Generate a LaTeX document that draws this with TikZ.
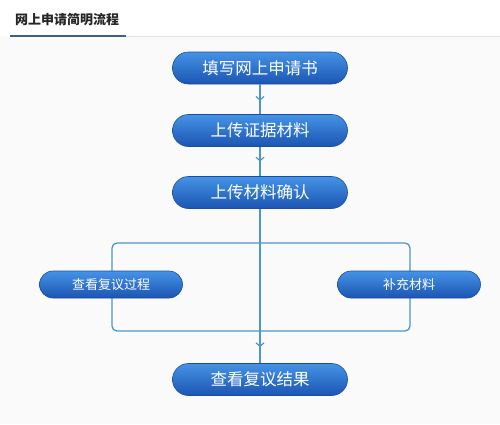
\documentclass[tikz,border=0pt]{standalone}
\usepackage{fontspec}
\newfontfamily\cjk{Noto Sans CJK SC}
\usetikzlibrary{decorations.markings,arrows.meta}
\definecolor{bg}{HTML}{FAFAFB}
\definecolor{boxtop}{HTML}{4593E6}
\definecolor{boxbot}{HTML}{1B55B2}
\definecolor{boxedge}{HTML}{1A4E9E}
\definecolor{linec}{HTML}{4F95C8}
\definecolor{titleline}{HTML}{3C5F8E}
\definecolor{sepline}{HTML}{E2E4E8}
\tikzset{
  x=1pt,y=-1pt,
  bigbox/.style={rounded corners=16pt,minimum width=175pt,minimum height=32pt,
    top color=boxtop,bottom color=boxbot,draw=boxedge,line width=0.6pt,
    text=white,font=\cjk\fontsize{16.5}{16.5}\selectfont,inner sep=0pt},
  smallbox/.style={rounded corners=13.5pt,minimum width=143pt,minimum height=27pt,
    top color=boxtop,bottom color=boxbot,draw=boxedge,line width=0.6pt,
    text=white,font=\cjk\fontsize{13}{13}\selectfont,inner sep=0pt},
  flow/.style={draw=linec,line width=1.3pt},
  midarrow/.style={postaction={decorate},decoration={markings,
    mark=at position #1 with {\arrow[linec,line width=1.2pt]{Straight Barb[length=3.5pt,width=8pt]}}}},
}
\begin{document}
\begin{tikzpicture}
\useasboundingbox (0,0) rectangle (500,424);
\fill[bg] (0,0) rectangle (500,424);
\fill[white] (0,0) rectangle (500,36);
\draw[sepline,line width=1pt] (126,36) -- (500,36);
\draw[titleline,line width=2pt] (10,36) -- (126,36);
\node[anchor=west,font=\cjk\bfseries\fontsize{13}{13}\selectfont,text=black!85,inner sep=0pt] (title) at (15,20) {网上申请简明流程};

\draw[linec,line width=1.3pt,rounded corners=5pt] (112,243) rectangle (410,331);

\node[bigbox] (b1) at (260,68) {填写网上申请书};
\node[bigbox] (b2) at (260,130.5) {上传证据材料};
\node[bigbox] (b3) at (260,192.5) {上传材料确认};
\node[smallbox] (s1) at (111,284.5) {查看复议过程};
\node[smallbox] (s2) at (409,284.5) {补充材料};
\node[bigbox] (b6) at (260,379.5) {查看复议结果};

\coordinate (split) at (260,331);
\draw[flow,midarrow=0.55] (b1) -- (b2);
\draw[flow,midarrow=0.5] (b2) -- (b3);
\draw[flow] (b3) -- (split);
\draw[flow,midarrow=0.5] (split) -- (b6);
\end{tikzpicture}
\end{document}
